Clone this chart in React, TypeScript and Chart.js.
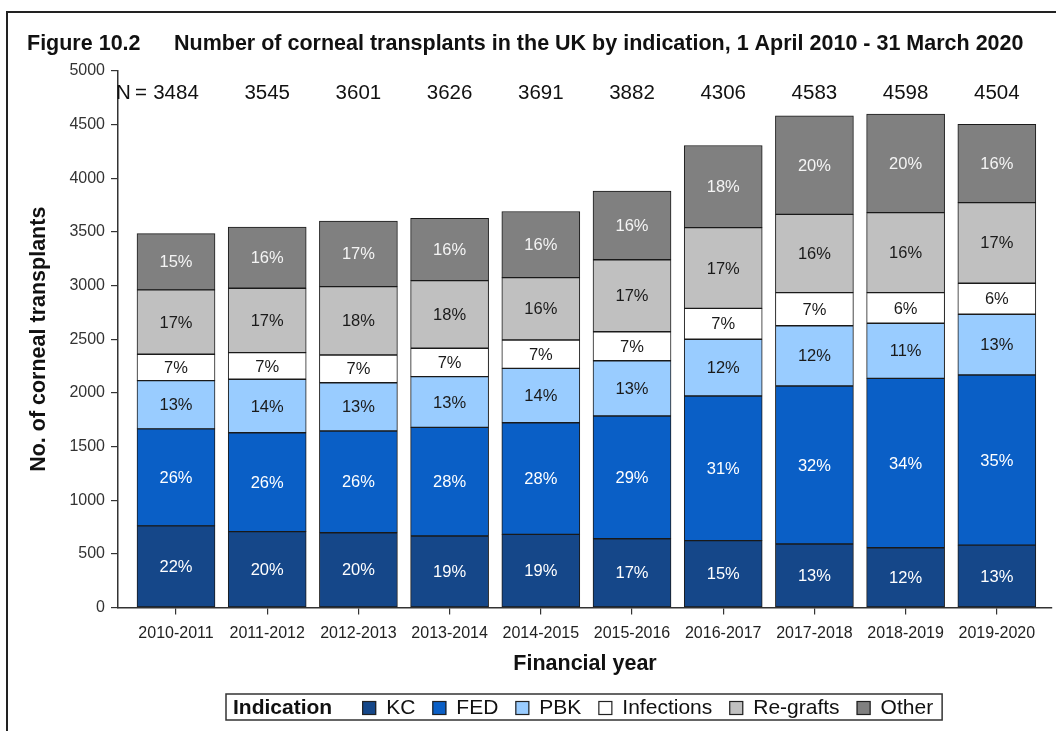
import React, { useEffect, useRef } from "react";
import { Chart, registerables } from "chart.js";

Chart.register(...registerables);

const FONT = "'Liberation Sans', Arial, Helvetica, sans-serif";

const categories = [
  "2010-2011", "2011-2012", "2012-2013", "2013-2014", "2014-2015",
  "2015-2016", "2016-2017", "2017-2018", "2018-2019", "2019-2020",
];
const totals = [3484, 3545, 3601, 3626, 3691, 3882, 4306, 4583, 4598, 4504];

const kc = [760, 707, 697, 666, 682, 641, 623, 592, 557, 582];
const fed = [905, 922, 948, 1013, 1040, 1144, 1348, 1472, 1579, 1585];
const pbk = [450, 498, 450, 472, 507, 515, 529, 562, 513, 566];
const infections = [245, 248, 258, 265, 264, 270, 288, 308, 285, 289];
const regrafts = [600, 600, 637, 630, 581, 671, 752, 730, 746, 751];
const other = [524, 570, 611, 580, 617, 641, 766, 919, 918, 731];

const kcPct = [22, 20, 20, 19, 19, 17, 15, 13, 12, 13];
const fedPct = [26, 26, 26, 28, 28, 29, 31, 32, 34, 35];
const pbkPct = [13, 14, 13, 13, 14, 13, 12, 12, 11, 13];
const infectionsPct = [7, 7, 7, 7, 7, 7, 7, 7, 6, 6];
const regraftsPct = [17, 17, 18, 18, 16, 17, 17, 16, 16, 17];
const otherPct = [15, 16, 17, 16, 16, 16, 18, 20, 20, 16];

const yMin = 0;
const yMax = 5000;
const yStep = 500;

const series = [
  { name: "KC", values: kc, pct: kcPct, color: "#154789", text: "#ffffff" },
  { name: "FED", values: fed, pct: fedPct, color: "#0a5fc6", text: "#ffffff" },
  { name: "PBK", values: pbk, pct: pbkPct, color: "#99ccff", text: "#1a1a1a" },
  { name: "Infections", values: infections, pct: infectionsPct, color: "#ffffff", text: "#1a1a1a" },
  { name: "Re-grafts", values: regrafts, pct: regraftsPct, color: "#c0c0c0", text: "#1a1a1a" },
  { name: "Other", values: other, pct: otherPct, color: "#808080", text: "#f4f4f4" },
];

const overlay = {
  id: "overlay",
  afterDatasetsDraw(chart: any) {
    const ctx = chart.ctx;
    ctx.save();
    ctx.font = `16.5px ${FONT}`;
    ctx.textAlign = "center";
    ctx.textBaseline = "middle";
    chart.data.datasets.forEach((_ds: any, di: number) => {
      const meta = chart.getDatasetMeta(di);
      meta.data.forEach((el: any, i: number) => {
        const p = el.getProps(["x", "y", "base"], true);
        ctx.fillStyle = series[di].text;
        ctx.fillText(series[di].pct[i] + "%", p.x, (p.y + p.base) / 2 + 1);
      });
    });
    ctx.restore();
  },
  afterDraw(chart: any) {
    const ctx = chart.ctx;
    const xs = chart.scales.x;
    const area = chart.chartArea;
    ctx.save();
    // frame
    ctx.strokeStyle = "#222";
    ctx.lineWidth = 2;
    ctx.strokeRect(7, 12, 1200, 900);

    // title
    ctx.fillStyle = "#111";
    ctx.textBaseline = "alphabetic";
    ctx.textAlign = "left";
    ctx.font = `bold 21.5px ${FONT}`;
    ctx.fillText("Figure 10.2", 27, 50);
    ctx.fillText(
      "Number of corneal transplants in the UK by indication, 1 April 2010 - 31 March 2020",
      174,
      50
    );

    // N labels
    ctx.font = `20.5px ${FONT}`;
    ctx.textBaseline = "middle";
    totals.forEach((n, i) => {
      const cx = xs.getPixelForValue(i);
      ctx.textAlign = "center";
      ctx.fillText(String(n), cx, 93);
    });
    ctx.textAlign = "left";
    ctx.fillText("N", 116, 93);
    ctx.textAlign = "center";
    ctx.fillText("=", 141, 93);

    // axis titles
    ctx.font = `bold 21.5px ${FONT}`;
    ctx.textAlign = "center";
    ctx.fillText("Financial year", (area.left + area.right) / 2, 664);
    ctx.save();
    ctx.translate(39, (area.top + area.bottom) / 2);
    ctx.rotate(-Math.PI / 2);
    ctx.fillText("No. of corneal transplants", 0, 0);
    ctx.restore();

    // legend
    const ly = 708;
    let lx = 233;
    ctx.textAlign = "left";
    ctx.textBaseline = "middle";
    ctx.font = `bold 21px ${FONT}`;
    ctx.fillText("Indication", lx, ly);
    lx += ctx.measureText("Indication").width + 30;
    ctx.font = `21px ${FONT}`;
    series.forEach((s) => {
      ctx.fillStyle = s.color;
      ctx.fillRect(lx, ly - 7, 14, 14);
      ctx.strokeStyle = "#222";
      ctx.lineWidth = 1.2;
      ctx.strokeRect(lx + 0.5, ly - 6.5, 13, 13);
      lx += 14 + 10;
      ctx.fillStyle = "#111";
      ctx.fillText(s.name, lx, ly);
      lx += ctx.measureText(s.name).width + 17;
    });
    ctx.strokeStyle = "#333";
    ctx.lineWidth = 1.5;
    ctx.strokeRect(226, 694, lx - 17 + 9 - 226, 26);
    ctx.restore();
  },
};

export default function App() {
  const ref = useRef<HTMLCanvasElement | null>(null);
  useEffect(() => {
    document.body.style.margin = "0";
    const canvas = ref.current;
    if (!canvas) return;
    Chart.defaults.font.family = FONT;
    const chart = new Chart(canvas, {
      type: "bar",
      data: {
        datasets: series.map((s) => ({
          label: s.name,
          data: s.values.map((v, i) => ({ x: i, y: v })),
          backgroundColor: s.color,
          borderColor: "#1a1a1a",
          borderWidth: 1,
          borderSkipped: false,
          barThickness: 78,
        })),
      },
      options: {
        animation: false,
        responsive: false,
        devicePixelRatio: 1,
        layout: { padding: { top: 71, right: 4, left: 0, bottom: 0 } },
        plugins: {
          legend: { display: false },
          title: { display: false },
          tooltip: { enabled: false },
        },
        scales: {
          x: {
            type: "linear",
            min: -0.636,
            max: 9.605,
            offset: false,
            bounds: "data",
            stacked: true,
            afterBuildTicks: (s: any) => {
              s.ticks = categories.map((_c, i) => ({ value: i }));
            },
            afterFit: (s: any) => {
              s.height = 123.5;
            },
            ticks: {
              callback: (v: any) => categories[v] ?? "",
              autoSkip: false,
              maxRotation: 0,
              minRotation: 0,
              font: { size: 16 },
              color: "#222",
              padding: 9,
            },
            grid: {
              offset: false,
              drawOnChartArea: false,
              drawTicks: true,
              tickLength: 7,
              color: "#333",
              lineWidth: 1.2,
            },
            border: { display: true, color: "#333", width: 1.5 },
          },
          y: {
            type: "linear",
            min: yMin,
            max: yMax,
            stacked: true,
            afterFit: (s: any) => {
              s.width = 118;
            },
            ticks: {
              stepSize: yStep,
              callback: (v: any) => String(v),
              font: { size: 16 },
              color: "#333",
              padding: 6,
            },
            grid: {
              drawOnChartArea: false,
              drawTicks: true,
              tickLength: 7,
              color: "#333",
              lineWidth: 1.2,
            },
            border: { display: true, color: "#333", width: 1.5 },
          },
        },
      } as any,
      plugins: [overlay],
    });
    return () => chart.destroy();
  }, []);
  return (
    <div style={{ width: 1056, height: 731, background: "#fff" }}>
      <canvas ref={ref} width={1056} height={731} style={{ display: "block" }} />
    </div>
  );
}
